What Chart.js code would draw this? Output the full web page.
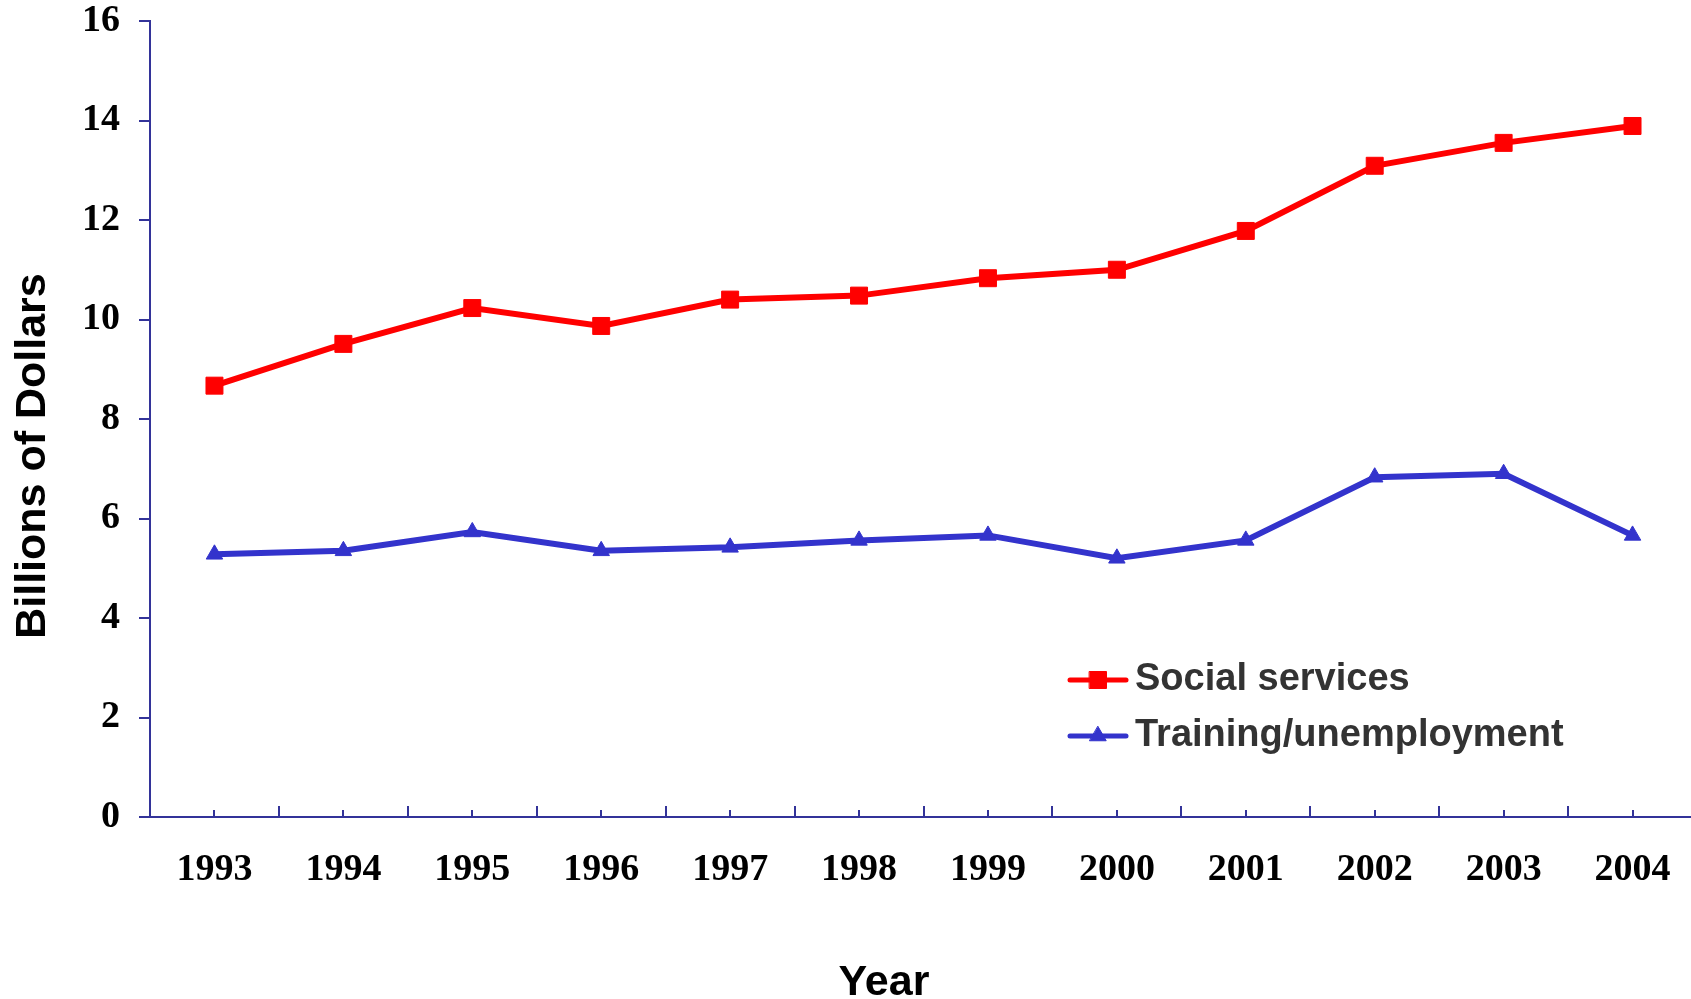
<!DOCTYPE html>
<html>
<head>
<meta charset="utf-8">
<title>Billions of Dollars by Year</title>
<script src="https://cdn.jsdelivr.net/npm/chart.js@4.4.1/dist/chart.umd.min.js"></script>
<style>
    html, body { margin: 0; padding: 0; background: #fff; overflow: hidden; }
    #wrap { position: absolute; left: 0; top: 0; width: 1710px; height: 999px; }
</style>
</head>
<body>
<div id="wrap"><canvas id="spendingChart"></canvas></div>
<script>
// ==========================
// DATA
// ==========================
const years = ["1993", "1994", "1995", "1996", "1997", "1998", "1999", "2000", "2001", "2002", "2003", "2004"];
const socialServices = [8.67, 9.51, 10.23, 9.87, 10.40, 10.48, 10.83, 11.00, 11.78, 13.09, 13.55, 13.89];
const trainingUnemployment = [5.28, 5.35, 5.73, 5.35, 5.42, 5.56, 5.66, 5.20, 5.56, 6.83, 6.90, 5.66];
const yTicks = [0, 2, 4, 6, 8, 10, 12, 14, 16];

const seriesNames = ["Social services", "Training/unemployment"];
const axisColor = "#333399";
const red = "#ff0000";
const blue = "#3333cc";
const serif = "'Liberation Serif', 'Times New Roman', serif";
const sans = "'Liberation Sans', Arial, sans-serif";

// ==========================
// PLUGINS
// ==========================
// small inward ticks on the category axis: short at each year, long between years
const xTickMarks = {
    id: "xTickMarks",
    afterDraw(chart) {
        const x = chart.scales.x;
        const ctx = chart.ctx;
        const y0 = x.top;
        const step = x.width / years.length;
        ctx.save();
        ctx.strokeStyle = axisColor;
        ctx.lineWidth = 2;
        ctx.beginPath();
        years.forEach((yr, i) => {
            const px = Math.round(x.getPixelForValue(i));
            ctx.moveTo(px, y0);
            ctx.lineTo(px, y0 - 7);
            const bx = Math.round(x.getPixelForValue(i) + step / 2);
            ctx.moveTo(bx, y0);
            ctx.lineTo(bx, y0 - 11);
        });
        ctx.stroke();
        ctx.restore();
    }
};

// axis titles
const axisTitles = {
    id: "axisTitles",
    afterDraw(chart) {
        const ctx = chart.ctx;
        ctx.save();
        ctx.fillStyle = "#000";
        ctx.font = "bold 43px " + sans;
        ctx.textAlign = "center";
        ctx.textBaseline = "middle";
        ctx.fillText("Year", 884, 983);
        ctx.translate(33, 456);
        ctx.rotate(-Math.PI / 2);
        ctx.fillText("Billions of Dollars", 0, 0);
        ctx.restore();
    }
};

// legend inside the plot, line + marker per series
const insideLegend = {
    id: "insideLegend",
    afterDraw(chart) {
        const ctx = chart.ctx;
        const rows = [680, 736];
        ctx.save();
        chart.data.datasets.forEach((ds, i) => {
            const y = rows[i];
            ctx.strokeStyle = ds.borderColor;
            ctx.lineWidth = 5;
            ctx.lineCap = "round";
            ctx.beginPath();
            ctx.moveTo(1070, y);
            ctx.lineTo(1126, y);
            ctx.stroke();
            ctx.fillStyle = ds.pointBackgroundColor;
            ctx.strokeStyle = ds.pointBorderColor;
            ctx.lineWidth = 1;
            Chart.helpers.drawPoint(ctx, {
                pointStyle: ds.pointStyle,
                radius: ds.pointRadius,
                borderWidth: 1,
                rotation: 0
            }, 1098, y);
            ctx.fillStyle = "#333333";
            ctx.font = "bold 38px " + sans;
            ctx.textAlign = "left";
            ctx.textBaseline = "middle";
            ctx.fillText(ds.label, 1135, y);
        });
        ctx.restore();
    }
};

// ==========================
// CHART
// ==========================
const ctx = document.getElementById("spendingChart");

new Chart(ctx, {
    type: "line",
    data: {
        labels: years,
        datasets: [
            {
                label: seriesNames[0],
                data: socialServices,
                borderColor: red,
                borderWidth: 6,
                pointStyle: "rect",
                pointRadius: 12,
                pointBackgroundColor: red,
                pointBorderColor: red,
                pointBorderWidth: 1,
                tension: 0
            },
            {
                label: seriesNames[1],
                data: trainingUnemployment,
                borderColor: blue,
                borderWidth: 6,
                pointStyle: "triangle",
                pointRadius: 9.5,
                pointBackgroundColor: blue,
                pointBorderColor: blue,
                pointBorderWidth: 1,
                tension: 0
            }
        ]
    },
    options: {
        responsive: true,
        maintainAspectRatio: false,
        animation: false,
        layout: { padding: { top: 21, right: 9, bottom: 0, left: 0 } },
        plugins: {
            legend: { display: false },
            tooltip: { enabled: false }
        },
        scales: {
            x: {
                offset: true,
                grid: { display: false },
                border: { color: axisColor, width: 2 },
                ticks: {
                    color: "#000",
                    padding: 22,
                    maxRotation: 0,
                    font: { family: serif, size: 38, weight: "bold" }
                },
                afterFit: (s) => { s.height = 182; s.paddingLeft = 0; s.paddingRight = 0; }
            },
            y: {
                min: 0,
                max: 16,
                afterBuildTicks: (s) => { s.ticks = yTicks.map(v => ({ value: v })); },
                grid: {
                    drawOnChartArea: false,
                    color: axisColor,
                    lineWidth: 2,
                    tickLength: 11
                },
                border: { color: axisColor, width: 2 },
                ticks: {
                    color: "#000",
                    padding: 19,
                    font: { family: serif, size: 38, weight: "bold" }
                },
                afterFit: (s) => { s.width = 150; s.paddingTop = 0; s.paddingBottom = 0; }
            }
        }
    },
    plugins: [xTickMarks, axisTitles, insideLegend]
});
</script>
</body>
</html>
